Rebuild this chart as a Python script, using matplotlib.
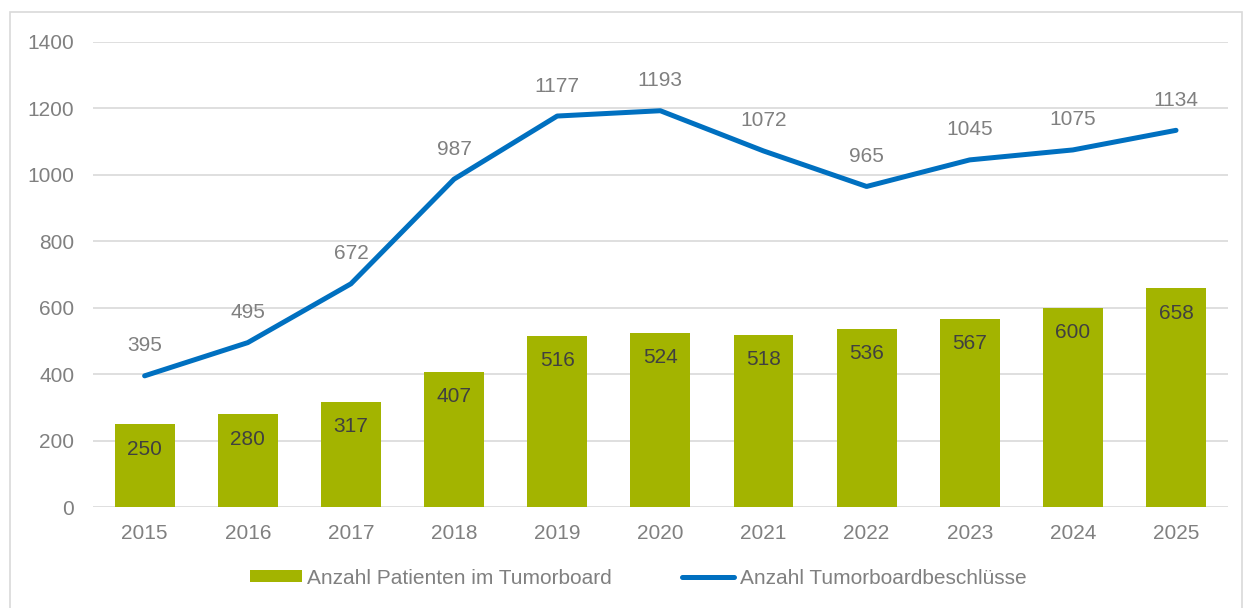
import numpy as np
import matplotlib.pyplot as plt
from matplotlib.patches import Rectangle

# data
years = ["2015", "2016", "2017", "2018", "2019", "2020", "2021", "2022", "2023", "2024", "2025"]
patienten = [250, 280, 317, 407, 516, 524, 518, 536, 567, 600, 658]
beschluesse = [395, 495, 672, 987, 1177, 1193, 1072, 965, 1045, 1075, 1134]
yticks = [0, 200, 400, 600, 800, 1000, 1200, 1400]

green = "#A3B400"
blue = "#0070C0"
grey_txt = "#808080"
fs = 15

plt.rcParams['font.family'] = ['Liberation Sans', 'DejaVu Sans']

fig = plt.figure(figsize=(12.44, 6.08), dpi=100)
ax = fig.add_axes([0.0748, 0.166, 0.912, 0.765])

# outer frame like the exported chart area
fig.patches.append(Rectangle((0.008, -0.05), 0.99, 1.03, transform=fig.transFigure,
                             fill=False, edgecolor="#d9d9d9", linewidth=1.2))

x = np.arange(len(years))
bars = ax.bar(x, patienten, width=0.58, color=green, zorder=2)
line, = ax.plot(x, beschluesse, color=blue, linewidth=3.6, solid_capstyle="round",
                solid_joinstyle="round", zorder=3)

for xi, v in zip(x, patienten):
    ax.annotate(str(v), (xi, v), xytext=(0, -25), textcoords="offset pixels",
                ha="center", va="center", fontsize=fs, color="#404040")
for xi, v in zip(x, beschluesse):
    ax.annotate(str(v), (xi, v), xytext=(0, 30), textcoords="offset pixels",
                ha="center", va="center", fontsize=fs, color=grey_txt)

ax.set_xlim(-0.5, len(years) - 0.5)
ax.set_ylim(0, 1400)
ax.set_yticks(yticks)
ax.set_xticks(x)
ax.set_xticklabels(years)
ax.tick_params(length=0, labelsize=fs, labelcolor=grey_txt)
ax.tick_params(axis="y", pad=13.5)
ax.tick_params(axis="x", pad=12)
ax.grid(axis="y", color="#d9d9d9", linewidth=1.2, zorder=0)
ax.set_axisbelow(True)
for s in ax.spines.values():
    s.set_visible(False)

leg = fig.legend([bars, line], ["Anzahl Patienten im Tumorboard", "Anzahl Tumorboardbeschlüsse"],
                 loc="center", bbox_to_anchor=(0.513, 0.049), ncol=2, frameon=False,
                 fontsize=fs, handlelength=2.5, handleheight=0.5, handletextpad=0.25,
                 columnspacing=3.37)
for t in leg.get_texts():
    t.set_color(grey_txt)

fig.savefig("out.png", dpi=100)
